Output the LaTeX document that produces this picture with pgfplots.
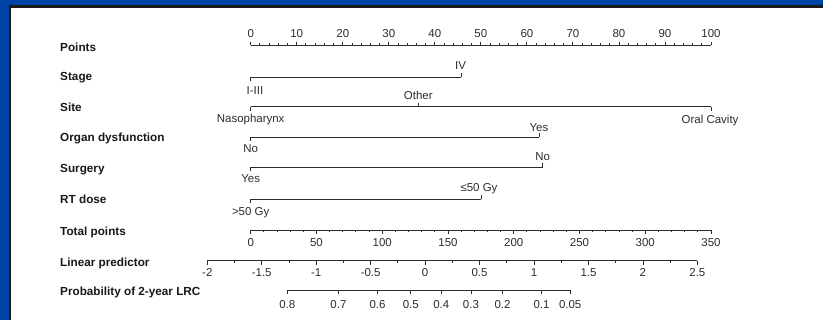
\documentclass[border=0pt]{standalone}
\usepackage{fontspec}
\setmainfont{Liberation Sans}
\usepackage{pgfplots}
\pgfplotsset{compat=1.18}
\definecolor{frameblue}{RGB}{0,68,168}
\definecolor{ink}{RGB}{45,45,45}
\begin{document}
\begin{tikzpicture}[font=\fontsize{8.6}{10}\selectfont, x=0.75pt, y=0.75pt]
% frame (picture is 823 x 320 px, 1 px = 0.75 pt)
\fill[frameblue] (-20,-20) rectangle (843,340);
\fill[black!90] (9.3,-20) rectangle (843,314.7);
\fill[white] (11,-20) rectangle (843,312.2);
\begin{axis}[
  at={(0,0)}, anchor=south west,
  scale only axis, width=617.25pt, height=240pt,
  xmin=-54.46, xmax=124.33, ymin=0, ymax=320, y dir=reverse,
  enlargelimits=false,
  axis lines=none, xtick=\empty, ytick=\empty, clip=false,
  lbl/.style={only marks, mark=none, nodes near coords, point meta=explicit symbolic,
     every node near coord/.append style={anchor=base, inner sep=0pt, text=ink, font=\fontsize{8.6}{10}\selectfont}},
  ttl/.style={only marks, mark=none, nodes near coords, point meta=explicit symbolic,
     every node near coord/.append style={anchor=base west, inner sep=0pt, text=black!90, font=\fontsize{8.8}{10}\selectfont\bfseries}},
  seg/.style={ink, line width=0.7pt, mark=none},
  tku/.style={ink, only marks, mark=|, mark size=#1, mark options={ink, line width=0.65pt, yshift=#1}},
  tkd/.style={ink, only marks, mark=|, mark size=#1, mark options={ink, line width=0.65pt, yshift=-#1}},
]
% row titles
\addplot[ttl] table[col sep=comma, row sep=\\, meta=l]{
x,y,l\\
-41.43,51.5,Points\\
-41.43,81,Stage\\
-41.43,112,Site\\
-41.43,142,Organ dysfunction\\
-41.43,173,Surgery\\
-41.43,203.5,RT dose\\
-41.43,235,Total points\\
-41.43,266,Linear predictor\\
-41.43,295.5,Probability of 2-year LRC\\
};

% Points scale
\addplot[seg] coordinates {(0,45) (100,45)};
\addplot[tku=1.3pt] table[row sep=\\, y expr=45]{x\\0\\10\\20\\30\\40\\50\\60\\70\\80\\90\\100\\};
\addplot[tku=0.75pt] table[row sep=\\, y expr=45]{x\\2\\4\\6\\8\\12\\14\\16\\18\\22\\24\\26\\28\\32\\34\\36\\38\\42\\44\\46\\48\\52\\54\\56\\58\\62\\64\\66\\68\\72\\74\\76\\78\\82\\84\\86\\88\\92\\94\\96\\98\\};
\addplot[lbl] table[row sep=\\, y expr=37.3, meta=l]{x l\\0 0\\10 10\\20 20\\30 30\\40 40\\50 50\\60 60\\70 70\\80 80\\90 90\\100 100\\};

% Stage
\addplot[seg] coordinates {(0,77.3) (45.69,77.3)};
\addplot[tkd=1.5pt] coordinates {(0,77.3)};
\addplot[tku=1.5pt] coordinates {(45.69,77.3)};
\addplot[lbl] table[col sep=comma, row sep=\\, meta=l]{x,y,l\\0.93,95,I-III\\45.6,70,IV\\};

% Site
\addplot[seg] coordinates {(0,106.7) (100,106.7)};
\addplot[tkd=1.5pt] coordinates {(0,106.7) (100,106.7)};
\addplot[tku=1.5pt] coordinates {(36.41,106.7)};
\addplot[lbl] table[col sep=comma, row sep=\\, meta=l]{x,y,l\\0,123,Nasopharynx\\36.41,100,Other\\99.8,123.5,Oral Cavity\\};

% Organ dysfunction
\addplot[seg] coordinates {(0,137.3) (62.63,137.3)};
\addplot[tkd=1.5pt] coordinates {(0,137.3)};
\addplot[tku=1.5pt] coordinates {(62.63,137.3)};
\addplot[lbl] table[col sep=comma, row sep=\\, meta=l]{x,y,l\\0,153,No\\62.63,131.5,Yes\\};

% Surgery
\addplot[seg] coordinates {(0,167.3) (63.44,167.3)};
\addplot[tkd=1.5pt] coordinates {(0,167.3)};
\addplot[tku=1.5pt] coordinates {(63.44,167.3)};
\addplot[lbl] table[col sep=comma, row sep=\\, meta=l]{x,y,l\\0,183,Yes\\63.44,161,No\\};

% RT dose
\addplot[seg] coordinates {(0,199.3) (50.03,199.3)};
\addplot[tkd=1.5pt] coordinates {(0,199.3)};
\addplot[tku=1.5pt] coordinates {(50.03,199.3)};
\addplot[lbl] table[col sep=comma, row sep=\\, meta=l]{x,y,l\\0,215,>50 Gy\\49.6,192,≤50 Gy\\};

% Total points (0-350 maps onto 0-100 points)
\addplot[seg] table[row sep=\\, x expr=\thisrow{t}/3.5, y expr=230]{t\\0\\350\\};
\addplot[tkd=1.5pt] table[row sep=\\, x expr=\thisrow{t}/3.5, y expr=230]{t\\0\\50\\100\\150\\200\\250\\300\\350\\};
\addplot[tkd=0.8pt] table[row sep=\\, x expr=\thisrow{t}/3.5, y expr=230]{t\\10\\20\\30\\40\\60\\70\\80\\90\\110\\120\\130\\140\\160\\170\\180\\190\\210\\220\\230\\240\\260\\270\\280\\290\\310\\320\\330\\340\\};
\addplot[lbl] table[row sep=\\, x expr=\thisrow{t}/3.5, y expr=246, meta=l]{t l\\0 0\\50 50\\100 100\\150 150\\200 200\\250 250\\300 300\\350 350\\};

% Linear predictor
\addplot[seg] table[row sep=\\, x expr=37.89+23.66*\thisrow{lp}, y expr=260.5]{lp\\-2\\2.5\\};
\addplot[tkd=1.5pt] table[row sep=\\, x expr=37.89+23.66*\thisrow{lp}, y expr=260.5]{lp\\-2\\-1.5\\-1\\-0.5\\0\\0.5\\1\\1.5\\2\\2.5\\};
\addplot[tkd=0.8pt] table[row sep=\\, x expr=37.89+23.66*\thisrow{lp}, y expr=260.5]{lp\\-1.75\\-1.25\\-0.75\\-0.25\\0.25\\0.75\\1.25\\1.75\\2.25\\};
\addplot[lbl] table[row sep=\\, x expr=37.89+23.66*\thisrow{lp}, y expr=276, meta=l]{lp l\\-2 -2\\-1.5 -1.5\\-1 -1\\-0.5 -0.5\\0 0\\0.5 0.5\\1 1\\1.5 1.5\\2 2\\2.5 2.5\\};

% Probability of 2-year LRC (positions on the linear predictor)
\addplot[seg] table[row sep=\\, x expr=37.89+23.66*\thisrow{lp}, y expr=290]{lp\\-1.265\\1.332\\};
\addplot[tkd=1.5pt] table[row sep=\\, x expr=37.89+23.66*\thisrow{lp}, y expr=290]{lp\\-1.265\\-0.796\\-0.437\\-0.131\\0.148\\0.421\\0.711\\1.069\\1.332\\};
\addplot[lbl] table[row sep=\\, x expr=37.89+23.66*\thisrow{lp}, y expr=308, meta=l]{lp l\\-1.265 0.8\\-0.796 0.7\\-0.437 0.6\\-0.131 0.5\\0.148 0.4\\0.421 0.3\\0.711 0.2\\1.069 0.1\\1.332 0.05\\};
\end{axis}
\pgfresetboundingbox
\useasboundingbox (0,0) rectangle (823,320);
\end{tikzpicture}
\end{document}
